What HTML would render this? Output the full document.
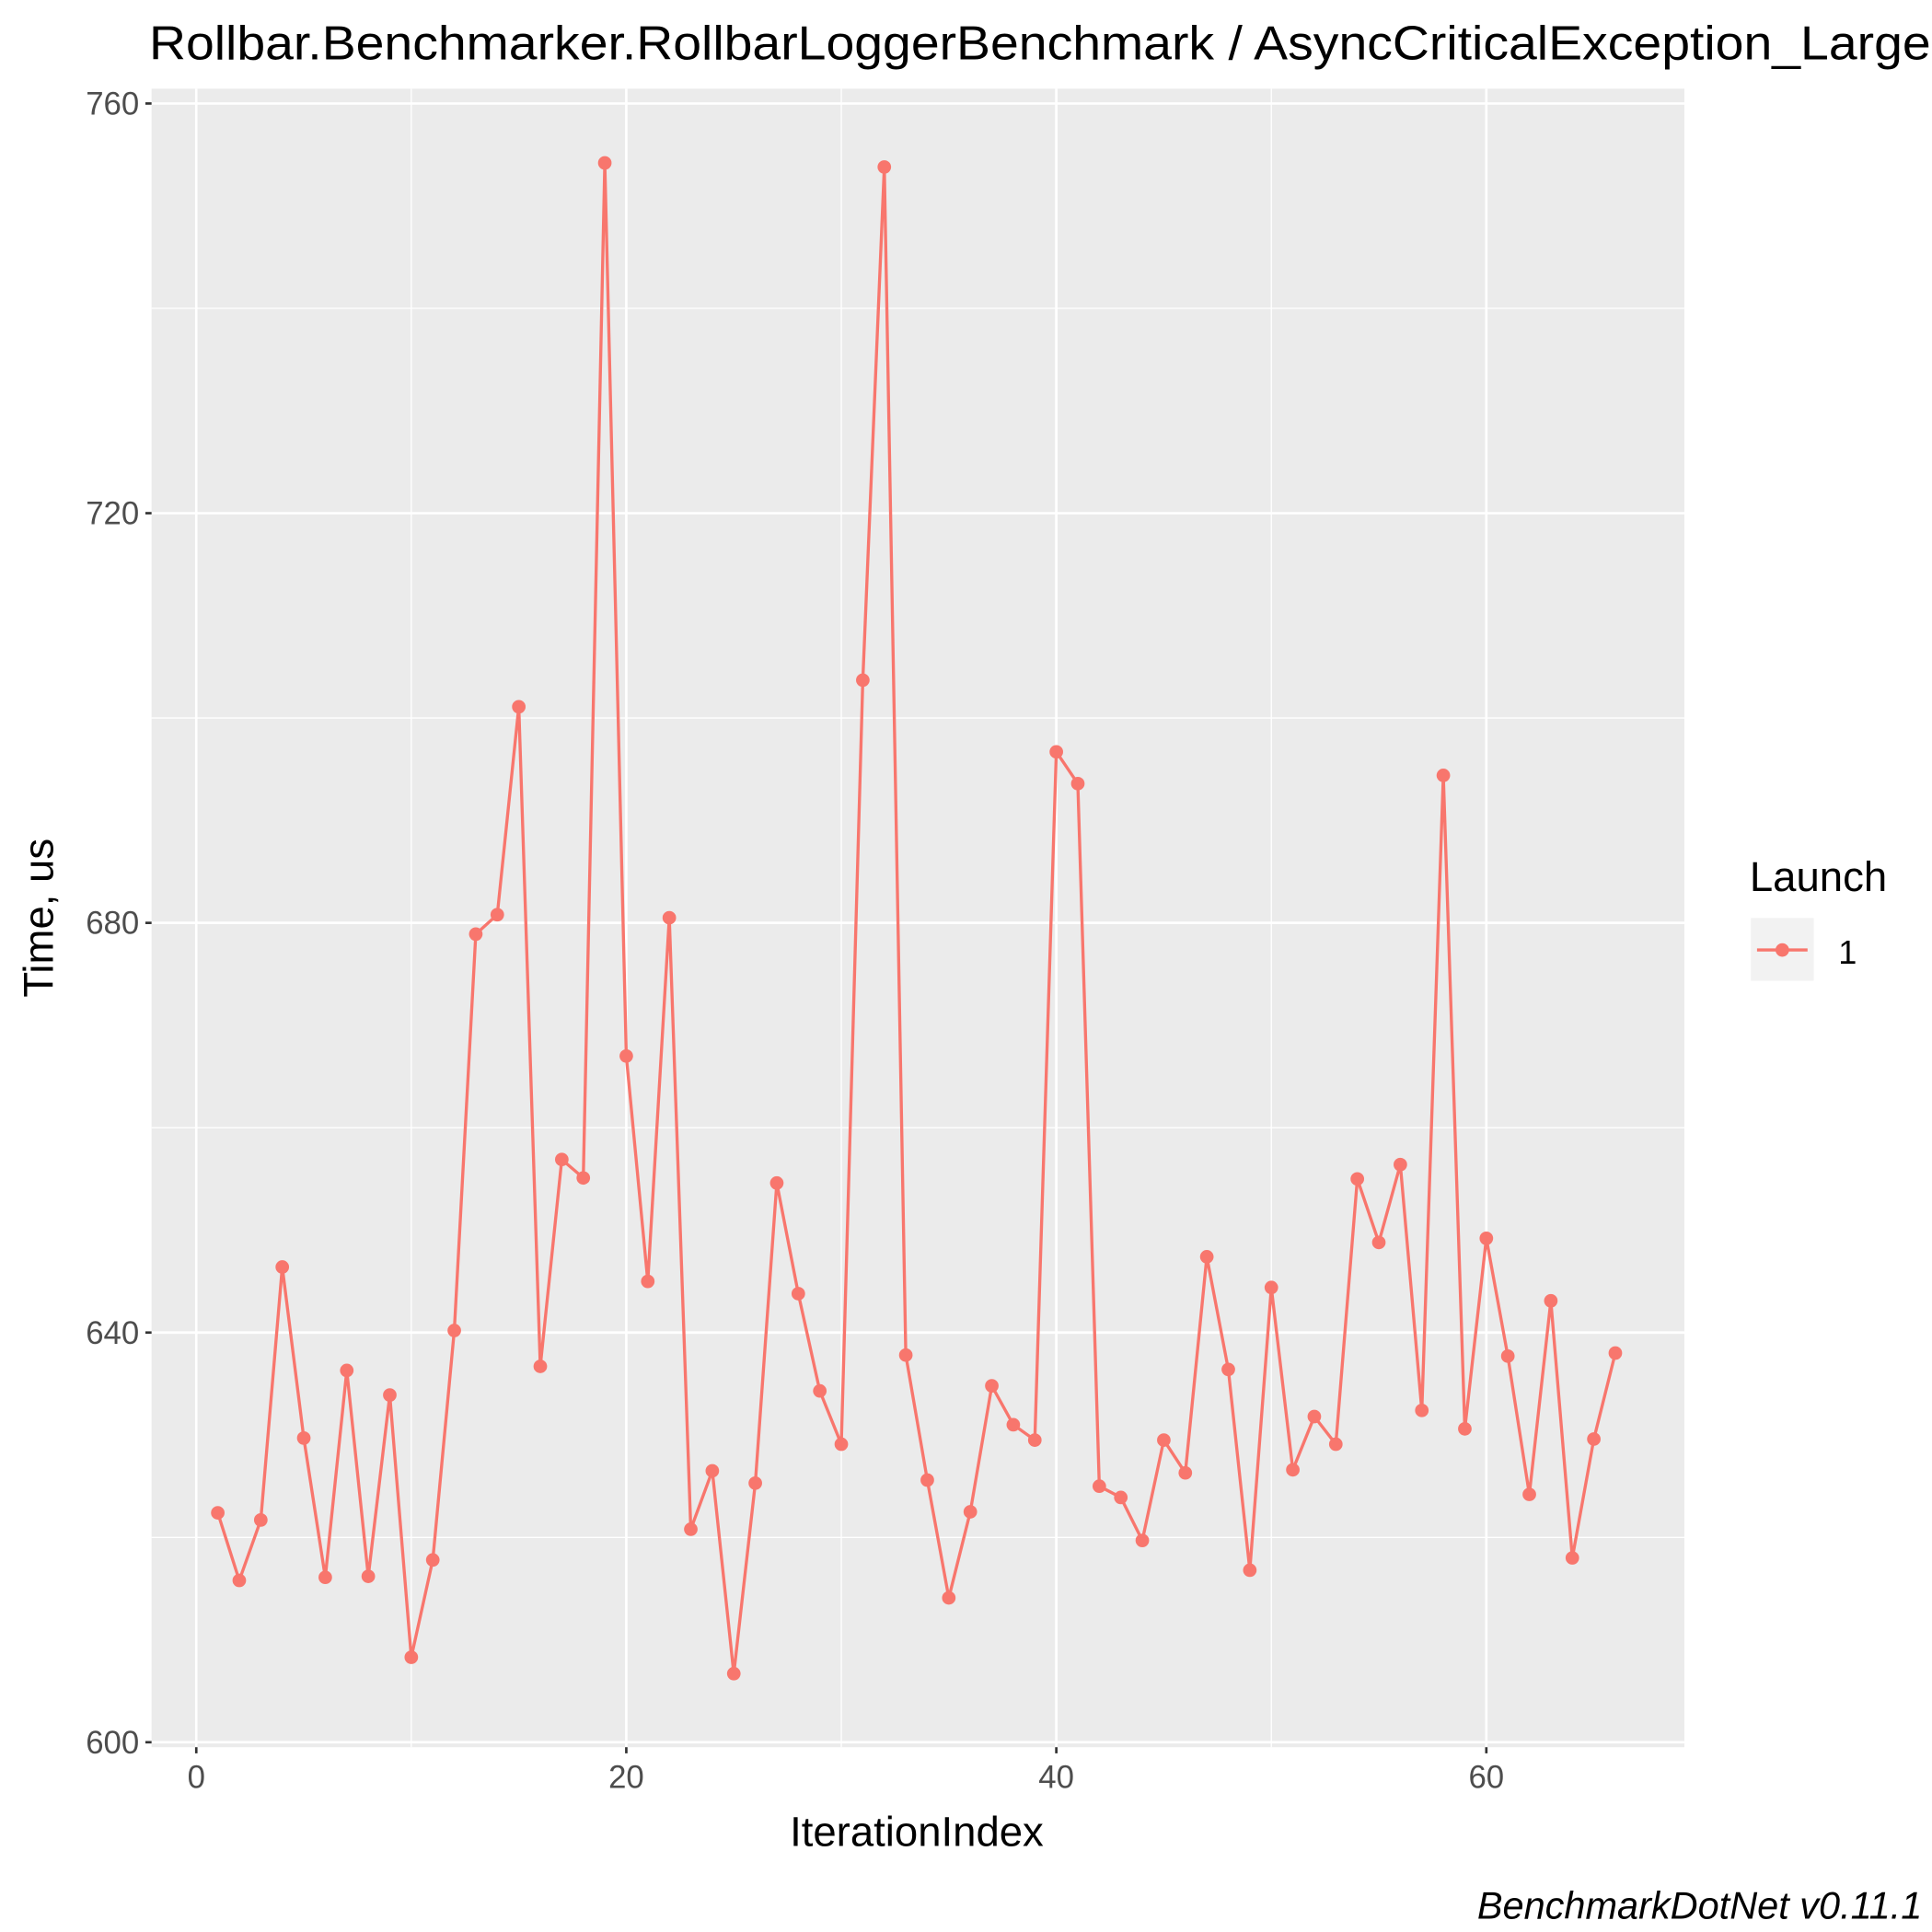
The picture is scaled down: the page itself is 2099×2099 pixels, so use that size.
<!DOCTYPE html>
<html><head><meta charset="utf-8"><style>
html,body{margin:0;padding:0;background:#fff}
svg{display:block}
text{font-family:"Liberation Sans",Arial,sans-serif}
</style></head><body>
<svg id="chart" width="2099" height="2099" viewBox="0 0 1568 1568" xmlns="http://www.w3.org/2000/svg">
<text x="121" y="48" font-size="39" textLength="1446" lengthAdjust="spacingAndGlyphs" fill="#000">Rollbar.Benchmarker.RollbarLoggerBenchmark / AsyncCriticalException_Large</text>
<rect x="123" y="72" width="1244" height="1346" fill="#ebebeb"/>
<g id="grid"></g>
<g id="axes"></g>
<g id="series"></g>
<text x="744" y="1498" font-size="34" text-anchor="middle" fill="#000">IterationIndex</text>
<text transform="translate(43,745) rotate(-90)" font-size="34" text-anchor="middle" fill="#000">Time, us</text>
<g>
<text x="1420" y="723" font-size="34" fill="#000">Launch</text>
<rect x="1421" y="745" width="51" height="51" fill="#f2f2f2"/>
<line x1="1426" y1="771" x2="1467" y2="771" stroke="#f8766d" stroke-width="2.5"/>
<circle cx="1446.5" cy="771" r="5.5" fill="#f8766d"/>
<text x="1492" y="782" font-size="27" fill="#000">1</text>
</g>
<text x="1560" y="1557" font-size="31" font-style="italic" text-anchor="end" fill="#000">BenchmarkDotNet v0.11.1</text>
</svg>
<script>
const iterations = [1,2,3,4,5,6,7,8,9,10,11,12,13,14,15,16,17,18,19,20,21,22,23,24,25,26,27,28,29,30,31,32,33,34,35,36,37,38,39,40,41,42,43,44,45,46,47,48,49,50,51,52,53,54,55,56,57,58,59,60,61,62,63,64,65,66];
const times = [622.4,615.8,621.7,646.4,629.7,616.1,636.3,616.2,633.9,608.3,617.8,640.2,678.9,680.8,701.1,636.7,656.9,655.1,754.2,667.0,645.0,680.5,620.8,626.5,606.7,625.3,654.6,643.8,634.3,629.1,703.7,753.8,637.8,625.6,614.1,622.5,634.8,631.0,629.5,696.7,693.6,625.0,623.9,619.7,629.5,626.3,647.4,636.4,616.8,644.4,626.6,631.8,629.1,655.0,648.8,656.4,632.4,694.4,630.6,649.2,637.7,624.2,643.1,618.0,629.6,638.0];
const xTicks = [0,20,40,60];
const xMinor = [10,30,50];
const yTicks = [600,640,680,720,760];
const yMinor = [620,660,700,740];

const NS = "http://www.w3.org/2000/svg";
const X0 = 123, X1 = 1367, Y0 = 72, Y1 = 1418;
function xs(v){ return 159.3 + v * 17.45; }
function ys(v){ return 1414 - (v - 600) * (1330 / 160); }
function mk(tag, attrs, parent){
  const e = document.createElementNS(NS, tag);
  for (const k in attrs) e.setAttribute(k, attrs[k]);
  parent.appendChild(e); return e;
}
const grid = document.getElementById('grid');
const axes = document.getElementById('axes');
const series = document.getElementById('series');

yMinor.forEach(v => {
  const l = mk('line', {x1:X0, x2:X1, y1:ys(v), y2:ys(v), stroke:'#fff', 'stroke-width':1}, grid);
  
  
});
xMinor.forEach(v => {
  const l = mk('line', {y1:Y0, y2:Y1, x1:xs(v), x2:xs(v), stroke:'#fff', 'stroke-width':1}, grid);
  
  
});
yTicks.forEach(v => {
  const l = mk('line', {x1:X0, x2:X1, y1:ys(v), y2:ys(v), stroke:'#fff', 'stroke-width':2}, grid);
  
  
  const t = mk('line', {x1:X0-5, x2:X0, y1:ys(v), y2:ys(v), stroke:'#333', 'stroke-width':2}, axes);
  
  
  const tx = mk('text', {x:X0-10, y:ys(v)+9, 'font-size':26, fill:'#4d4d4d', 'text-anchor':'end'}, axes);
  tx.textContent = v;
  
  
});
xTicks.forEach(v => {
  const l = mk('line', {y1:Y0, y2:Y1, x1:xs(v), x2:xs(v), stroke:'#fff', 'stroke-width':2}, grid);
  
  
  const t = mk('line', {y1:Y1, y2:Y1+5, x1:xs(v), x2:xs(v), stroke:'#333', 'stroke-width':2}, axes);
  
  
  const tx = mk('text', {x:xs(v), y:Y1+33, 'font-size':26, fill:'#4d4d4d', 'text-anchor':'middle'}, axes);
  tx.textContent = v;
  
  
});

const pts = iterations.map((it, i) => xs(it).toFixed(2) + ',' + ys(times[i]).toFixed(2)).join(' ');
const line = mk('polyline', {points:pts, fill:'none', stroke:'#f8766d', 'stroke-width':2.5}, series);


iterations.forEach((it, i) => {
  const c = mk('circle', {cx:xs(it), cy:ys(times[i]), r:5.5, fill:'#f8766d'}, series);
  
  
});
</script>
</body></html>
